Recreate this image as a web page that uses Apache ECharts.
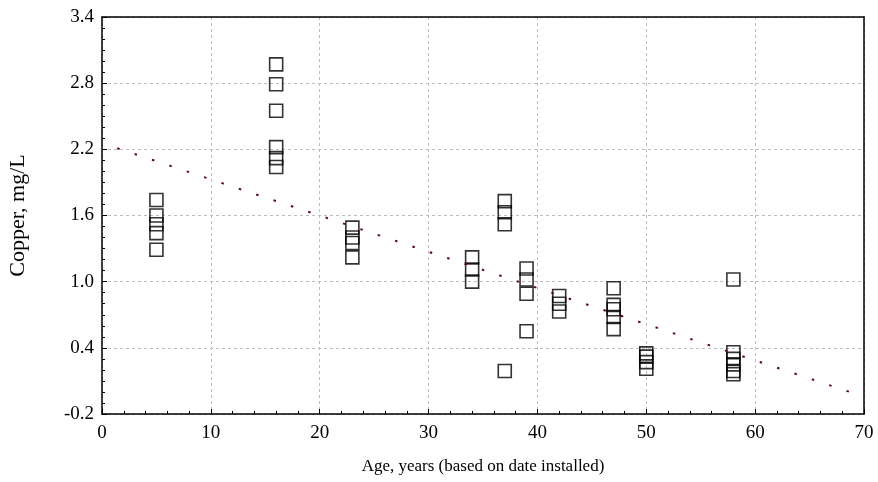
<!DOCTYPE html>
<html><head><meta charset="utf-8">
<script src="https://cdn.jsdelivr.net/npm/echarts@6/dist/echarts.min.js"></script>
<style>html,body{margin:0;padding:0;background:#fff}#c{width:878px;height:482px}</style>
</head><body><div id="c"></div>
<script>
// Ages (years) and copper (mg/L)
const ages = [5,5,5,5,5, 16,16,16,16,16,16, 23,23,23,23, 34,34,34, 37,37,37,37, 39,39,39,39, 42,42,42, 47,47,47,47,47, 50,50,50,50, 58,58,58,58,58,58];
const copper = [1.74,1.60,1.52,1.44,1.29, 2.97,2.79,2.55,2.22,2.12,2.04, 1.49,1.40,1.35,1.22, 1.22,1.11,1.00, 1.73,1.63,1.52,0.19, 1.12,1.02,0.89,0.55, 0.87,0.80,0.73, 0.94,0.79,0.75,0.68,0.57, 0.35,0.32,0.27,0.21, 1.02,0.36,0.30,0.25,0.19,0.16];
const fitX = [1.4, 69.0];
const fitY = [2.21, -0.01];
const xTicks = [0,10,20,30,40,50,60,70];
const yTicks = [-0.2,0.4,1.0,1.6,2.2,2.8,3.4];

const pts = ages.map((a,i)=>[a,copper[i]]);
const fit = fitX.map((x,i)=>[x,fitY[i]]);
const font = '"Liberation Serif","DejaVu Serif",serif';
const chart = echarts.init(document.getElementById('c'));
const tick = {show:true, inside:true, length:5, lineStyle:{color:'#000',width:1}};
const minor = {show:true, length:3, lineStyle:{color:'#000',width:1}};
const grid = {show:true, lineStyle:{color:'#bdbdbd', type:[3,3], width:1}};
chart.setOption({
  animation:false,
  backgroundColor:'#fff',
  grid:{left:102, right:14, top:17, bottom:68, containLabel:false, outerBoundsMode:'none'},
  xAxis:[{
    type:'value', min:0, max:70, interval:10,
    name:'Age, years (based on date installed)', nameLocation:'middle', nameGap:44,
    nameTextStyle:{fontFamily:font, fontSize:17, color:'#000'},
    axisLine:{show:true, onZero:false, lineStyle:{color:'#000', width:1.5}},
    axisTick:tick, minorTick:Object.assign({splitNumber:5},minor),
    axisLabel:{fontFamily:font, fontSize:19, color:'#000', margin:10, formatter:v=>String(v)},
    splitLine:grid
  },{
    type:'value', min:0, max:70, interval:10, position:'top',
    axisLine:{show:true, onZero:false, lineStyle:{color:'#000', width:1.5}},
    axisTick:{show:false}, axisLabel:{show:false}, splitLine:{show:false}
  }],
  yAxis:[{
    type:'value', min:-0.2, max:3.4, interval:0.6,
    name:'Copper, mg/L', nameLocation:'middle', nameGap:73, nameRotate:90,
    nameTextStyle:{fontFamily:font, fontSize:22, color:'#000'},
    axisLine:{show:true, onZero:false, lineStyle:{color:'#000', width:1.5}},
    axisTick:tick, minorTick:Object.assign({splitNumber:6},minor),
    axisLabel:{fontFamily:font, fontSize:19, color:'#000', margin:8, formatter:v=>v.toFixed(1)},
    splitLine:grid
  },{
    type:'value', min:-0.2, max:3.4, interval:0.6, position:'right',
    axisLine:{show:true, onZero:false, lineStyle:{color:'#000', width:1.5}},
    axisTick:{show:false}, axisLabel:{show:false}, splitLine:{show:false}
  }],
  series:[{
    type:'line', data:fit, symbol:'none', silent:true,
    lineStyle:{color:'#5e0a16', width:2, type:[2.5,15.8]}
  },{
    type:'scatter', data:pts, symbol:'rect', symbolSize:13,
    itemStyle:{color:'rgba(0,0,0,0)', borderColor:'#000', borderWidth:1.6}
  }]
});
</script></body></html>
